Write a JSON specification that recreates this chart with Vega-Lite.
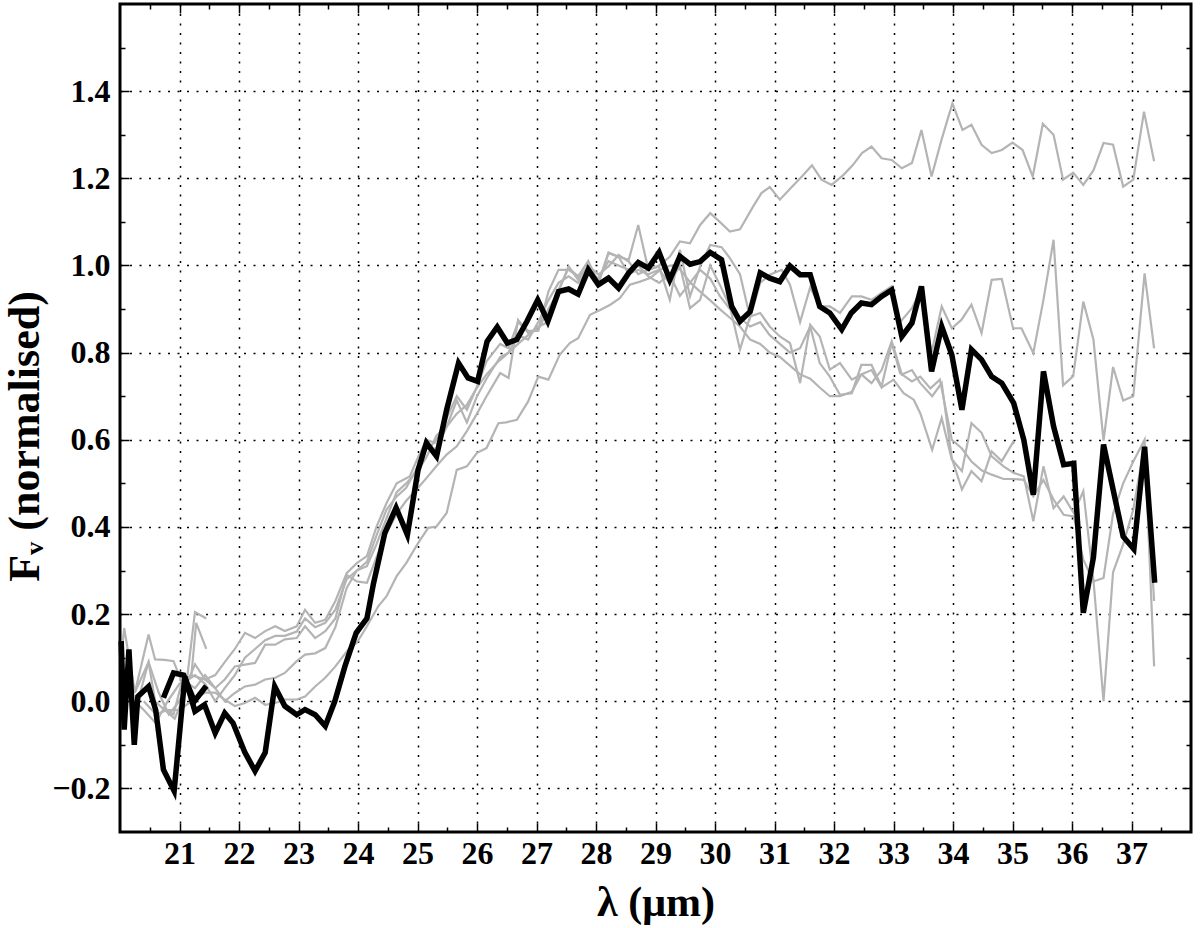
{
  "$schema": "https://vega.github.io/schema/vega-lite/v6.json",
  "width": 1071,
  "height": 828,
  "autosize": {"type": "none"},
  "padding": {"left": 120, "top": 4, "right": 9, "bottom": 96},
  "background": "white",
  "config": {
    "view": {"stroke": "#000", "strokeWidth": 3},
    "axis": {
      "labelFont": "Liberation Serif", "labelFontWeight": "bold", "labelFontSize": 32, "labelColor": "#000",
      "titleFont": "Liberation Serif", "titleFontWeight": "bold", "titleFontSize": 42, "titleColor": "#000",
      "tickColor": "#000", "tickWidth": 1.5, "domain": false,
      "gridColor": "#000", "gridDash": [2, 7.5], "gridWidth": 1.5, "gridOpacity": 1
    }
  },
  "resolve": {"axis": {"x": "independent", "y": "independent"}},
  "layer": [
    {
      "data": {"values": [
        {"s":"A","x":20.30,"y":0.00},{"s":"A","x":20.48,"y":0.09},{"s":"A","x":20.65,"y":0.02},{"s":"A","x":20.82,"y":-0.03},{"s":"A","x":21.0,"y":0.0},{"s":"A","x":21.26,"y":0.085},{"s":"A","x":21.43,"y":0.05},{"s":"A","x":21.6,"y":0.06},{"s":"A","x":21.76,"y":0.09},{"s":"A","x":21.93,"y":0.12},{"s":"A","x":22.10,"y":0.157},{"s":"A","x":22.27,"y":0.145},{"s":"A","x":22.44,"y":0.161},{"s":"A","x":22.61,"y":0.172},{"s":"A","x":22.77,"y":0.161},{"s":"A","x":22.97,"y":0.172},{"s":"A","x":23.11,"y":0.21},{"s":"A","x":23.28,"y":0.18},{"s":"A","x":23.45,"y":0.187},{"s":"A","x":23.62,"y":0.23},{"s":"A","x":23.81,"y":0.294},{"s":"A","x":23.98,"y":0.317},{"s":"A","x":24.15,"y":0.333},{"s":"A","x":24.31,"y":0.40},{"s":"A","x":24.48,"y":0.455},{"s":"A","x":24.65,"y":0.50},{"s":"A","x":24.87,"y":0.516},{"s":"A","x":25.01,"y":0.56},{"s":"A","x":25.15,"y":0.60},{"s":"A","x":25.29,"y":0.593},{"s":"A","x":25.49,"y":0.65},{"s":"A","x":25.66,"y":0.70},{"s":"A","x":25.83,"y":0.669},{"s":"A","x":26.0,"y":0.722},{"s":"A","x":26.16,"y":0.78},{"s":"A","x":26.39,"y":0.82},{"s":"A","x":26.53,"y":0.81},{"s":"A","x":26.69,"y":0.87},{"s":"A","x":26.86,"y":0.85},{"s":"A","x":27.03,"y":0.85},{"s":"A","x":27.20,"y":0.94},{"s":"A","x":27.37,"y":0.99},{"s":"A","x":27.54,"y":0.99},{"s":"A","x":27.70,"y":0.975},{"s":"A","x":27.87,"y":1.01},{"s":"A","x":28.04,"y":0.96},{"s":"A","x":28.21,"y":1.03},{"s":"A","x":28.38,"y":1.02},{"s":"A","x":28.55,"y":1.013},{"s":"A","x":28.71,"y":1.093},{"s":"A","x":28.88,"y":0.99},{"s":"A","x":29.06,"y":1.0},{"s":"A","x":29.24,"y":1.02},{"s":"A","x":29.41,"y":1.055},{"s":"A","x":29.58,"y":1.051},{"s":"A","x":29.75,"y":1.093},{"s":"A","x":29.92,"y":1.12},{"s":"A","x":30.08,"y":1.10},{"s":"A","x":30.25,"y":1.078},{"s":"A","x":30.42,"y":1.083},{"s":"A","x":30.64,"y":1.135},{"s":"A","x":30.78,"y":1.166},{"s":"A","x":30.92,"y":1.18},{"s":"A","x":31.09,"y":1.151},{"s":"A","x":31.29,"y":1.18},{"s":"A","x":31.46,"y":1.204},{"s":"A","x":31.63,"y":1.23},{"s":"A","x":31.79,"y":1.197},{"s":"A","x":31.96,"y":1.185},{"s":"A","x":32.16,"y":1.208},{"s":"A","x":32.32,"y":1.231},{"s":"A","x":32.47,"y":1.258},{"s":"A","x":32.63,"y":1.273},{"s":"A","x":32.80,"y":1.246},{"s":"A","x":32.97,"y":1.242},{"s":"A","x":33.14,"y":1.223},{"s":"A","x":33.31,"y":1.235},{"s":"A","x":33.47,"y":1.311},{"s":"A","x":33.64,"y":1.204},{"s":"A","x":33.81,"y":1.29},{"s":"A","x":33.99,"y":1.372},{"s":"A","x":34.16,"y":1.311},{"s":"A","x":34.31,"y":1.323},{"s":"A","x":34.48,"y":1.277},{"s":"A","x":34.65,"y":1.258},{"s":"A","x":34.82,"y":1.265},{"s":"A","x":35.00,"y":1.282},{"s":"A","x":35.17,"y":1.265},{"s":"A","x":35.34,"y":1.204},{"s":"A","x":35.51,"y":1.325},{"s":"A","x":35.69,"y":1.300},{"s":"A","x":35.85,"y":1.197},{"s":"A","x":36.02,"y":1.213},{"s":"A","x":36.19,"y":1.185},{"s":"A","x":36.36,"y":1.218},{"s":"A","x":36.53,"y":1.281},{"s":"A","x":36.69,"y":1.277},{"s":"A","x":36.86,"y":1.181},{"s":"A","x":37.03,"y":1.197},{"s":"A","x":37.21,"y":1.353},{"s":"A","x":37.38,"y":1.239},
        {"s":"B","x":20.25,"y":0.02},{"s":"B","x":20.48,"y":0.09},{"s":"B","x":20.59,"y":0.0},{"s":"B","x":20.75,"y":-0.02},{"s":"B","x":20.9,"y":-0.03},{"s":"B","x":21.05,"y":0.05},{"s":"B","x":21.26,"y":0.03},{"s":"B","x":21.43,"y":0.06},{"s":"B","x":21.6,"y":0.03},{"s":"B","x":21.76,"y":0.05},{"s":"B","x":21.93,"y":0.08},{"s":"B","x":22.10,"y":0.084},{"s":"B","x":22.27,"y":0.088},{"s":"B","x":22.44,"y":0.13},{"s":"B","x":22.61,"y":0.13},{"s":"B","x":22.77,"y":0.142},{"s":"B","x":22.97,"y":0.145},{"s":"B","x":23.11,"y":0.172},{"s":"B","x":23.28,"y":0.145},{"s":"B","x":23.45,"y":0.161},{"s":"B","x":23.62,"y":0.19},{"s":"B","x":23.81,"y":0.29},{"s":"B","x":23.98,"y":0.275},{"s":"B","x":24.15,"y":0.272},{"s":"B","x":24.31,"y":0.33},{"s":"B","x":24.48,"y":0.386},{"s":"B","x":24.65,"y":0.43},{"s":"B","x":24.81,"y":0.46},{"s":"B","x":25.01,"y":0.49},{"s":"B","x":25.15,"y":0.512},{"s":"B","x":25.32,"y":0.54},{"s":"B","x":25.49,"y":0.566},{"s":"B","x":25.66,"y":0.585},{"s":"B","x":25.83,"y":0.62},{"s":"B","x":26.0,"y":0.66},{"s":"B","x":26.16,"y":0.70},{"s":"B","x":26.39,"y":0.753},{"s":"B","x":26.53,"y":0.742},{"s":"B","x":26.69,"y":0.875},{"s":"B","x":26.86,"y":0.845},{"s":"B","x":27.03,"y":0.853},{"s":"B","x":27.20,"y":0.90},{"s":"B","x":27.37,"y":0.94},{"s":"B","x":27.54,"y":0.998},{"s":"B","x":27.70,"y":0.967},{"s":"B","x":27.87,"y":1.0},{"s":"B","x":28.04,"y":0.979},{"s":"B","x":28.21,"y":0.998},{"s":"B","x":28.38,"y":1.024},{"s":"B","x":28.55,"y":1.009},{"s":"B","x":28.71,"y":0.98},{"s":"B","x":28.88,"y":0.99},{"s":"B","x":29.06,"y":0.998},{"s":"B","x":29.24,"y":0.921},{"s":"B","x":29.41,"y":1.036},{"s":"B","x":29.58,"y":0.929},{"s":"B","x":29.75,"y":0.998},{"s":"B","x":29.92,"y":1.047},{"s":"B","x":30.11,"y":1.042},{"s":"B","x":30.25,"y":1.017},{"s":"B","x":30.42,"y":0.98},{"s":"B","x":30.59,"y":0.88},{"s":"B","x":30.76,"y":0.96},{"s":"B","x":30.92,"y":0.979},{"s":"B","x":31.12,"y":0.99},{"s":"B","x":31.26,"y":0.956},{"s":"B","x":31.43,"y":0.87},{"s":"B","x":31.60,"y":0.95},{"s":"B","x":31.76,"y":0.906},{"s":"B","x":31.93,"y":0.906},{"s":"B","x":32.10,"y":0.891},{"s":"B","x":32.30,"y":0.929},{"s":"B","x":32.46,"y":0.929},{"s":"B","x":32.63,"y":0.921},{"s":"B","x":32.80,"y":0.937},{"s":"B","x":32.97,"y":0.952},{"s":"B","x":33.11,"y":0.87},{"s":"B","x":33.31,"y":0.902},{"s":"B","x":33.45,"y":0.941},{"s":"B","x":33.64,"y":0.80},{"s":"B","x":33.81,"y":0.906},{"s":"B","x":33.98,"y":0.856},{"s":"B","x":34.14,"y":0.875},{"s":"B","x":34.31,"y":0.910},{"s":"B","x":34.48,"y":0.845},{"s":"B","x":34.65,"y":0.967},{"s":"B","x":34.82,"y":0.969},{"s":"B","x":35.01,"y":0.856},{"s":"B","x":35.15,"y":0.856},{"s":"B","x":35.35,"y":0.799},{"s":"B","x":35.52,"y":0.921},{"s":"B","x":35.69,"y":1.059},{"s":"B","x":35.85,"y":0.725},{"s":"B","x":36.02,"y":0.746},{"s":"B","x":36.19,"y":0.917},{"s":"B","x":36.36,"y":0.83},{"s":"B","x":36.53,"y":0.598},{"s":"B","x":36.69,"y":0.767},{"s":"B","x":36.86,"y":0.69},{"s":"B","x":37.03,"y":0.70},{"s":"B","x":37.22,"y":0.982},{"s":"B","x":37.38,"y":0.81},
        {"s":"C","x":20.40,"y":0.0},{"s":"C","x":20.6,"y":-0.03},{"s":"C","x":20.8,"y":-0.02},{"s":"C","x":21.0,"y":-0.02},{"s":"C","x":21.2,"y":0.0},{"s":"C","x":21.43,"y":0.02},{"s":"C","x":21.6,"y":0.02},{"s":"C","x":21.76,"y":0.004},{"s":"C","x":21.93,"y":-0.011},{"s":"C","x":22.10,"y":-0.004},{"s":"C","x":22.27,"y":0.008},{"s":"C","x":22.44,"y":-0.008},{"s":"C","x":22.61,"y":-0.004},{"s":"C","x":22.77,"y":0.004},{"s":"C","x":22.97,"y":0.004},{"s":"C","x":23.11,"y":0.011},{"s":"C","x":23.28,"y":0.034},{"s":"C","x":23.45,"y":0.054},{"s":"C","x":23.62,"y":0.08},{"s":"C","x":23.84,"y":0.119},{"s":"C","x":23.98,"y":0.134},{"s":"C","x":24.15,"y":0.172},{"s":"C","x":24.34,"y":0.218},{"s":"C","x":24.48,"y":0.241},{"s":"C","x":24.65,"y":0.287},{"s":"C","x":24.81,"y":0.317},{"s":"C","x":25.01,"y":0.363},{"s":"C","x":25.18,"y":0.398},{"s":"C","x":25.32,"y":0.401},{"s":"C","x":25.49,"y":0.432},{"s":"C","x":25.66,"y":0.531},{"s":"C","x":25.83,"y":0.539},{"s":"C","x":26.0,"y":0.57},{"s":"C","x":26.16,"y":0.581},{"s":"C","x":26.36,"y":0.638},{"s":"C","x":26.49,"y":0.64},{"s":"C","x":26.67,"y":0.646},{"s":"C","x":26.86,"y":0.688},{"s":"C","x":27.03,"y":0.745},{"s":"C","x":27.20,"y":0.738},{"s":"C","x":27.39,"y":0.795},{"s":"C","x":27.56,"y":0.822},{"s":"C","x":27.70,"y":0.833},{"s":"C","x":27.90,"y":0.887},{"s":"C","x":28.07,"y":0.898},{"s":"C","x":28.24,"y":0.910},{"s":"C","x":28.40,"y":0.925},{"s":"C","x":28.57,"y":0.956},{"s":"C","x":28.74,"y":0.963},{"s":"C","x":28.91,"y":0.971},{"s":"C","x":29.08,"y":0.99},{"s":"C","x":29.25,"y":1.0},{"s":"C","x":29.42,"y":0.99},{"s":"C","x":29.59,"y":0.96},{"s":"C","x":29.75,"y":0.94},{"s":"C","x":29.92,"y":0.92},{"s":"C","x":30.08,"y":0.90},{"s":"C","x":30.25,"y":0.88},{"s":"C","x":30.42,"y":0.86},{"s":"C","x":30.59,"y":0.83},{"s":"C","x":30.76,"y":0.82},{"s":"C","x":30.92,"y":0.80},{"s":"C","x":31.09,"y":0.79},{"s":"C","x":31.26,"y":0.77},{"s":"C","x":31.43,"y":0.75},{"s":"C","x":31.60,"y":0.74},{"s":"C","x":31.76,"y":0.72},{"s":"C","x":31.93,"y":0.70},{"s":"C","x":32.10,"y":0.70},{"s":"C","x":32.30,"y":0.71},{"s":"C","x":32.46,"y":0.75},{"s":"C","x":32.63,"y":0.76},{"s":"C","x":32.80,"y":0.72},{"s":"C","x":33.0,"y":0.738},{"s":"C","x":33.17,"y":0.707},{"s":"C","x":33.34,"y":0.692},{"s":"C","x":33.45,"y":0.661},{"s":"C","x":33.65,"y":0.577},{"s":"C","x":33.81,"y":0.65},{"s":"C","x":33.98,"y":0.555},{"s":"C","x":34.15,"y":0.528},{"s":"C","x":34.31,"y":0.638},{"s":"C","x":34.48,"y":0.616},{"s":"C","x":34.65,"y":0.562},{"s":"C","x":34.85,"y":0.539},{"s":"C","x":35.02,"y":0.524},{"s":"C","x":35.19,"y":0.516},{"s":"C","x":35.35,"y":0.413},{"s":"C","x":35.52,"y":0.539},{"s":"C","x":35.69,"y":0.443},{"s":"C","x":35.86,"y":0.47},{"s":"C","x":36.03,"y":0.432},{"s":"C","x":36.19,"y":0.482},{"s":"C","x":36.36,"y":0.279},{"s":"C","x":36.53,"y":0.0},{"s":"C","x":36.69,"y":0.296},{"s":"C","x":36.86,"y":0.36},{"s":"C","x":37.03,"y":0.44},{"s":"C","x":37.22,"y":0.59},{"s":"C","x":37.38,"y":0.23}
      ]},
      "mark": {"type": "line", "color": "#b4b4b4", "strokeWidth": 2.2},
      "encoding": {
        "x": {"field": "x", "type": "quantitative", "scale": {"domain": [20, 38], "nice": false, "zero": false},
          "axis": {"orient": "bottom", "values": [21,22,23,24,25,26,27,28,29,30,31,32,33,34,35,36,37], "ticks": false, "grid": true, "labelPadding": 6, "title": "λ (μm)", "titleX": 535.5, "titleY": 83, "titleAlign": "center", "titleBaseline": "alphabetic"}},
        "y": {"field": "y", "type": "quantitative", "scale": {"domain": [-0.3, 1.6], "nice": false, "zero": false},
          "axis": {"orient": "left", "values": [-0.2,0,0.2,0.4,0.6,0.8,1.0,1.2,1.4], "format": ".1f", "ticks": false, "grid": true, "labelPadding": 10, "title": "Fᵥ (normalised)", "titleFontSize": 44, "titleX": -95, "titleY": 432, "titleAngle": 270, "titleAlign": "center", "titleBaseline": "middle"}},
        "detail": {"field": "s"}
      }
    },
    {
      "data": {"values": [
        {"s":"D","x":20.25,"y":0.0},{"s":"D","x":20.4,"y":-0.02},{"s":"D","x":20.6,"y":-0.05},{"s":"D","x":20.8,"y":0.0},{"s":"D","x":21.0,"y":0.04},{"s":"D","x":21.2,"y":0.06},{"s":"D","x":21.43,"y":0.05},{"s":"D","x":21.6,"y":0.03},{"s":"D","x":21.76,"y":0.0},{"s":"D","x":21.93,"y":0.019},{"s":"D","x":22.10,"y":0.034},{"s":"D","x":22.27,"y":0.038},{"s":"D","x":22.44,"y":0.05},{"s":"D","x":22.61,"y":0.054},{"s":"D","x":22.77,"y":0.065},{"s":"D","x":22.97,"y":0.092},{"s":"D","x":23.11,"y":0.107},{"s":"D","x":23.28,"y":0.11},{"s":"D","x":23.45,"y":0.122},{"s":"D","x":23.62,"y":0.17},{"s":"D","x":23.81,"y":0.26},{"s":"D","x":23.98,"y":0.30},{"s":"D","x":24.15,"y":0.31},{"s":"D","x":24.31,"y":0.36},{"s":"D","x":24.48,"y":0.42},{"s":"D","x":24.65,"y":0.48},{"s":"D","x":24.81,"y":0.50},{"s":"D","x":25.01,"y":0.53},{"s":"D","x":25.15,"y":0.56},{"s":"D","x":25.32,"y":0.61},{"s":"D","x":25.49,"y":0.63},{"s":"D","x":25.66,"y":0.66},{"s":"D","x":25.83,"y":0.68},{"s":"D","x":26.0,"y":0.72},{"s":"D","x":26.16,"y":0.75},{"s":"D","x":26.36,"y":0.78},{"s":"D","x":26.53,"y":0.80},{"s":"D","x":26.69,"y":0.82},{"s":"D","x":26.86,"y":0.84},{"s":"D","x":27.03,"y":0.86},{"s":"D","x":27.20,"y":0.87},{"s":"D","x":27.37,"y":0.944},{"s":"D","x":27.54,"y":0.994},{"s":"D","x":27.70,"y":0.975},{"s":"D","x":27.87,"y":0.99},{"s":"D","x":28.04,"y":0.959},{"s":"D","x":28.21,"y":1.028},{"s":"D","x":28.38,"y":1.02},{"s":"D","x":28.55,"y":0.98},{"s":"D","x":28.71,"y":0.99},{"s":"D","x":28.88,"y":0.98},{"s":"D","x":29.06,"y":0.99},{"s":"D","x":29.24,"y":0.959},{"s":"D","x":29.41,"y":1.0},{"s":"D","x":29.58,"y":0.902},{"s":"D","x":29.75,"y":0.921},{"s":"D","x":29.92,"y":1.0},{"s":"D","x":30.08,"y":0.956},{"s":"D","x":30.25,"y":0.906},{"s":"D","x":30.42,"y":0.807},{"s":"D","x":30.59,"y":0.883},{"s":"D","x":30.76,"y":0.891},{"s":"D","x":30.92,"y":0.86},{"s":"D","x":31.09,"y":0.837},{"s":"D","x":31.26,"y":0.822},{"s":"D","x":31.43,"y":0.73},{"s":"D","x":31.60,"y":0.864},{"s":"D","x":31.76,"y":0.837},{"s":"D","x":31.93,"y":0.761},{"s":"D","x":32.10,"y":0.776},{"s":"D","x":32.30,"y":0.738},{"s":"D","x":32.46,"y":0.75},{"s":"D","x":32.63,"y":0.73},{"s":"D","x":32.80,"y":0.76},{"s":"D","x":32.97,"y":0.826},{"s":"D","x":33.14,"y":0.75},{"s":"D","x":33.31,"y":0.76},{"s":"D","x":33.45,"y":0.73},{"s":"D","x":33.65,"y":0.70},{"s":"D","x":33.81,"y":0.73},{"s":"D","x":33.98,"y":0.558},{"s":"D","x":34.15,"y":0.486},{"s":"D","x":34.31,"y":0.528},{"s":"D","x":34.48,"y":0.505},{"s":"D","x":34.65,"y":0.573},{"s":"D","x":34.82,"y":0.551},{"s":"D","x":35.02,"y":0.597},
        {"s":"E","x":20.02,"y":0.10},{"s":"E","x":20.07,"y":0.168},{"s":"E","x":20.25,"y":0.02},{"s":"E","x":20.48,"y":0.153},{"s":"E","x":20.59,"y":0.096},{"s":"E","x":20.75,"y":0.095},{"s":"E","x":20.9,"y":0.092},{"s":"E","x":21.05,"y":0.04},{"s":"E","x":21.26,"y":0.06},{"s":"E","x":21.43,"y":0.04},{"s":"E","x":21.6,"y":0.0},{"s":"E","x":21.76,"y":0.03},{"s":"E","x":21.93,"y":0.06},{"s":"E","x":22.10,"y":0.10},{"s":"E","x":22.27,"y":0.12},{"s":"E","x":22.44,"y":0.14},{"s":"E","x":22.61,"y":0.15},{"s":"E","x":22.77,"y":0.15},{"s":"E","x":22.97,"y":0.16},{"s":"E","x":23.11,"y":0.19},{"s":"E","x":23.28,"y":0.17},{"s":"E","x":23.45,"y":0.18},{"s":"E","x":23.62,"y":0.21},{"s":"E","x":23.81,"y":0.28},{"s":"E","x":23.98,"y":0.30},{"s":"E","x":24.15,"y":0.32},{"s":"E","x":24.31,"y":0.38},{"s":"E","x":24.48,"y":0.44},{"s":"E","x":24.65,"y":0.47},{"s":"E","x":24.81,"y":0.49},{"s":"E","x":25.01,"y":0.54},{"s":"E","x":25.15,"y":0.58},{"s":"E","x":25.32,"y":0.58},{"s":"E","x":25.49,"y":0.63},{"s":"E","x":25.66,"y":0.69},{"s":"E","x":25.83,"y":0.64},{"s":"E","x":26.0,"y":0.70},{"s":"E","x":26.16,"y":0.74},{"s":"E","x":26.39,"y":0.79},{"s":"E","x":26.53,"y":0.80},{"s":"E","x":26.69,"y":0.84},{"s":"E","x":26.86,"y":0.83},{"s":"E","x":27.03,"y":0.87},{"s":"E","x":27.20,"y":0.92},{"s":"E","x":27.37,"y":0.96},{"s":"E","x":27.54,"y":0.975},{"s":"E","x":27.70,"y":0.96},{"s":"E","x":27.87,"y":0.99},{"s":"E","x":28.04,"y":0.97},{"s":"E","x":28.21,"y":1.01},{"s":"E","x":28.38,"y":1.0},{"s":"E","x":28.55,"y":0.99},{"s":"E","x":28.71,"y":1.0},{"s":"E","x":28.88,"y":0.975},{"s":"E","x":29.06,"y":0.96},{"s":"E","x":29.24,"y":0.98},{"s":"E","x":29.41,"y":0.93},{"s":"E","x":29.58,"y":0.96},{"s":"E","x":29.75,"y":0.99},{"s":"E","x":29.92,"y":0.97},{"s":"E","x":30.08,"y":0.93},{"s":"E","x":30.25,"y":0.90},{"s":"E","x":30.42,"y":0.88},{"s":"E","x":30.59,"y":0.86},{"s":"E","x":30.76,"y":0.87},{"s":"E","x":30.92,"y":0.84},{"s":"E","x":31.09,"y":0.82},{"s":"E","x":31.26,"y":0.80},{"s":"E","x":31.43,"y":0.81},{"s":"E","x":31.60,"y":0.86},{"s":"E","x":31.76,"y":0.776},{"s":"E","x":31.93,"y":0.745},{"s":"E","x":32.10,"y":0.703},{"s":"E","x":32.30,"y":0.707},{"s":"E","x":32.46,"y":0.772},{"s":"E","x":32.63,"y":0.772},{"s":"E","x":32.80,"y":0.722},{"s":"E","x":32.97,"y":0.822},{"s":"E","x":33.11,"y":0.753},{"s":"E","x":33.31,"y":0.734},{"s":"E","x":33.45,"y":0.745},{"s":"E","x":33.62,"y":0.718},{"s":"E","x":33.78,"y":0.738},{"s":"E","x":33.98,"y":0.60},{"s":"E","x":34.15,"y":0.58},{"s":"E","x":34.31,"y":0.55},{"s":"E","x":34.48,"y":0.53},{"s":"E","x":34.65,"y":0.52},{"s":"E","x":34.85,"y":0.51},{"s":"E","x":35.02,"y":0.51},{"s":"E","x":35.19,"y":0.508},{"s":"E","x":35.35,"y":0.47},{"s":"E","x":35.52,"y":0.508},{"s":"E","x":35.69,"y":0.463},{"s":"E","x":35.86,"y":0.428},{"s":"E","x":36.03,"y":0.424},{"s":"E","x":36.19,"y":0.325},{"s":"E","x":36.36,"y":0.275},{"s":"E","x":36.53,"y":0.283},{"s":"E","x":36.69,"y":0.43},{"s":"E","x":36.86,"y":0.50},{"s":"E","x":37.03,"y":0.55},{"s":"E","x":37.22,"y":0.60},{"s":"E","x":37.38,"y":0.08}
      ]},
      "mark": {"type": "line", "color": "#b4b4b4", "strokeWidth": 2.2},
      "encoding": {
        "x": {"field": "x", "type": "quantitative",
          "axis": {"orient": "bottom", "offset": -9, "values": [21,22,23,24,25,26,27,28,29,30,31,32,33,34,35,36,37], "tickSize": 9, "labels": false, "grid": false, "title": null}},
        "y": {"field": "y", "type": "quantitative",
          "axis": {"orient": "left", "offset": -9, "values": [-0.2,0,0.2,0.4,0.6,0.8,1.0,1.2,1.4], "tickSize": 9, "labels": false, "grid": false, "title": null}},
        "detail": {"field": "s"}
      }
    },
    {
      "data": {"values": [
        {"s":"M1","x":20.75,"y":-0.02},{"s":"M1","x":20.92,"y":-0.04},{"s":"M1","x":21.1,"y":0.02},{"s":"M1","x":21.26,"y":0.205},{"s":"M1","x":21.45,"y":0.19},
        {"s":"M2","x":21.2,"y":0.06},{"s":"M2","x":21.28,"y":0.18},{"s":"M2","x":21.45,"y":0.12}
      ]},
      "mark": {"type": "line", "color": "#b4b4b4", "strokeWidth": 2.2},
      "encoding": {
        "x": {"field": "x", "type": "quantitative",
          "axis": {"orient": "bottom", "offset": -5, "values": [20.5,21.5,22.5,23.5,24.5,25.5,26.5,27.5,28.5,29.5,30.5,31.5,32.5,33.5,34.5,35.5,36.5,37.5], "tickSize": 5, "labels": false, "grid": false, "title": null}},
        "y": {"field": "y", "type": "quantitative",
          "axis": {"orient": "left", "offset": -5, "values": [-0.1,0.1,0.3,0.5,0.7,0.9,1.1,1.3,1.5], "tickSize": 5, "labels": false, "grid": false, "title": null}},
        "detail": {"field": "s"}
      }
    },
    {
      "data": {"values": [
        {"x":20.02,"y":0.138},{"x":20.07,"y":-0.065},{"x":20.15,"y":0.119},{"x":20.24,"y":-0.10},{"x":20.30,"y":0.011},{"x":20.48,"y":0.034},{"x":20.60,"y":-0.02},{"x":20.73,"y":-0.157},{"x":20.91,"y":-0.206},{"x":21.09,"y":0.056},{"x":21.26,"y":-0.023},{"x":21.42,"y":-0.008},{"x":21.60,"y":-0.073},{"x":21.76,"y":-0.027},{"x":21.90,"y":-0.05},{"x":22.10,"y":-0.118},{"x":22.27,"y":-0.16},{"x":22.44,"y":-0.118},{"x":22.60,"y":0.034},{"x":22.77,"y":-0.011},{"x":22.97,"y":-0.031},{"x":23.11,"y":-0.019},{"x":23.28,"y":-0.031},{"x":23.45,"y":-0.057},{"x":23.61,"y":0.0},{"x":23.78,"y":0.08},{"x":23.97,"y":0.157},{"x":24.15,"y":0.19},{"x":24.26,"y":0.27},{"x":24.45,"y":0.386},{"x":24.64,"y":0.444},{"x":24.83,"y":0.382},{"x":25.01,"y":0.531},{"x":25.15,"y":0.593},{"x":25.32,"y":0.562},{"x":25.49,"y":0.669},{"x":25.69,"y":0.776},{"x":25.85,"y":0.742},{"x":26.01,"y":0.734},{"x":26.17,"y":0.826},{"x":26.34,"y":0.859},{"x":26.51,"y":0.822},{"x":26.67,"y":0.830},{"x":26.84,"y":0.872},{"x":27.02,"y":0.921},{"x":27.19,"y":0.872},{"x":27.37,"y":0.940},{"x":27.54,"y":0.946},{"x":27.70,"y":0.934},{"x":27.87,"y":0.990},{"x":28.04,"y":0.956},{"x":28.21,"y":0.971},{"x":28.38,"y":0.948},{"x":28.55,"y":0.983},{"x":28.71,"y":1.007},{"x":28.88,"y":0.994},{"x":29.06,"y":1.030},{"x":29.24,"y":0.967},{"x":29.41,"y":1.021},{"x":29.58,"y":1.003},{"x":29.75,"y":1.009},{"x":29.92,"y":1.030},{"x":30.11,"y":1.013},{"x":30.28,"y":0.906},{"x":30.42,"y":0.872},{"x":30.59,"y":0.894},{"x":30.76,"y":0.983},{"x":30.92,"y":0.971},{"x":31.09,"y":0.963},{"x":31.26,"y":0.999},{"x":31.43,"y":0.979},{"x":31.60,"y":0.979},{"x":31.76,"y":0.906},{"x":31.93,"y":0.891},{"x":32.13,"y":0.853},{"x":32.29,"y":0.891},{"x":32.46,"y":0.914},{"x":32.63,"y":0.910},{"x":32.80,"y":0.929},{"x":32.97,"y":0.944},{"x":33.14,"y":0.837},{"x":33.31,"y":0.868},{"x":33.47,"y":0.952},{"x":33.64,"y":0.757},{"x":33.81,"y":0.860},{"x":33.98,"y":0.795},{"x":34.15,"y":0.669},{"x":34.31,"y":0.807},{"x":34.48,"y":0.784},{"x":34.65,"y":0.745},{"x":34.82,"y":0.730},{"x":35.02,"y":0.684},{"x":35.19,"y":0.600},{"x":35.35,"y":0.474},{"x":35.52,"y":0.757},{"x":35.69,"y":0.631},{"x":35.86,"y":0.543},{"x":36.03,"y":0.546},{"x":36.19,"y":0.203},{"x":36.36,"y":0.33},{"x":36.53,"y":0.589},{"x":36.70,"y":0.48},{"x":36.86,"y":0.378},{"x":37.04,"y":0.349},{"x":37.22,"y":0.584},{"x":37.39,"y":0.272}
      ]},
      "mark": {"type": "line", "color": "#000", "strokeWidth": 5.5},
      "encoding": {
        "x": {"field": "x", "type": "quantitative",
          "axis": {"orient": "top", "offset": -9, "values": [21,22,23,24,25,26,27,28,29,30,31,32,33,34,35,36,37], "tickSize": 9, "labels": false, "grid": false, "title": null}},
        "y": {"field": "y", "type": "quantitative",
          "axis": {"orient": "right", "offset": -9, "values": [-0.2,0,0.2,0.4,0.6,0.8,1.0,1.2,1.4], "tickSize": 9, "labels": false, "grid": false, "title": null}}
      }
    },
    {
      "data": {"values": [
        {"x":20.73,"y":0.008},{"x":20.90,"y":0.065},{"x":21.07,"y":0.06},{"x":21.25,"y":0.0},{"x":21.45,"y":0.035}
      ]},
      "mark": {"type": "line", "color": "#000", "strokeWidth": 5.5},
      "encoding": {
        "x": {"field": "x", "type": "quantitative",
          "axis": {"orient": "top", "offset": -5, "values": [20.5,21.5,22.5,23.5,24.5,25.5,26.5,27.5,28.5,29.5,30.5,31.5,32.5,33.5,34.5,35.5,36.5,37.5], "tickSize": 5, "labels": false, "grid": false, "title": null}},
        "y": {"field": "y", "type": "quantitative",
          "axis": {"orient": "right", "offset": -5, "values": [-0.1,0.1,0.3,0.5,0.7,0.9,1.1,1.3,1.5], "tickSize": 5, "labels": false, "grid": false, "title": null}}
      }
    }
  ]
}
